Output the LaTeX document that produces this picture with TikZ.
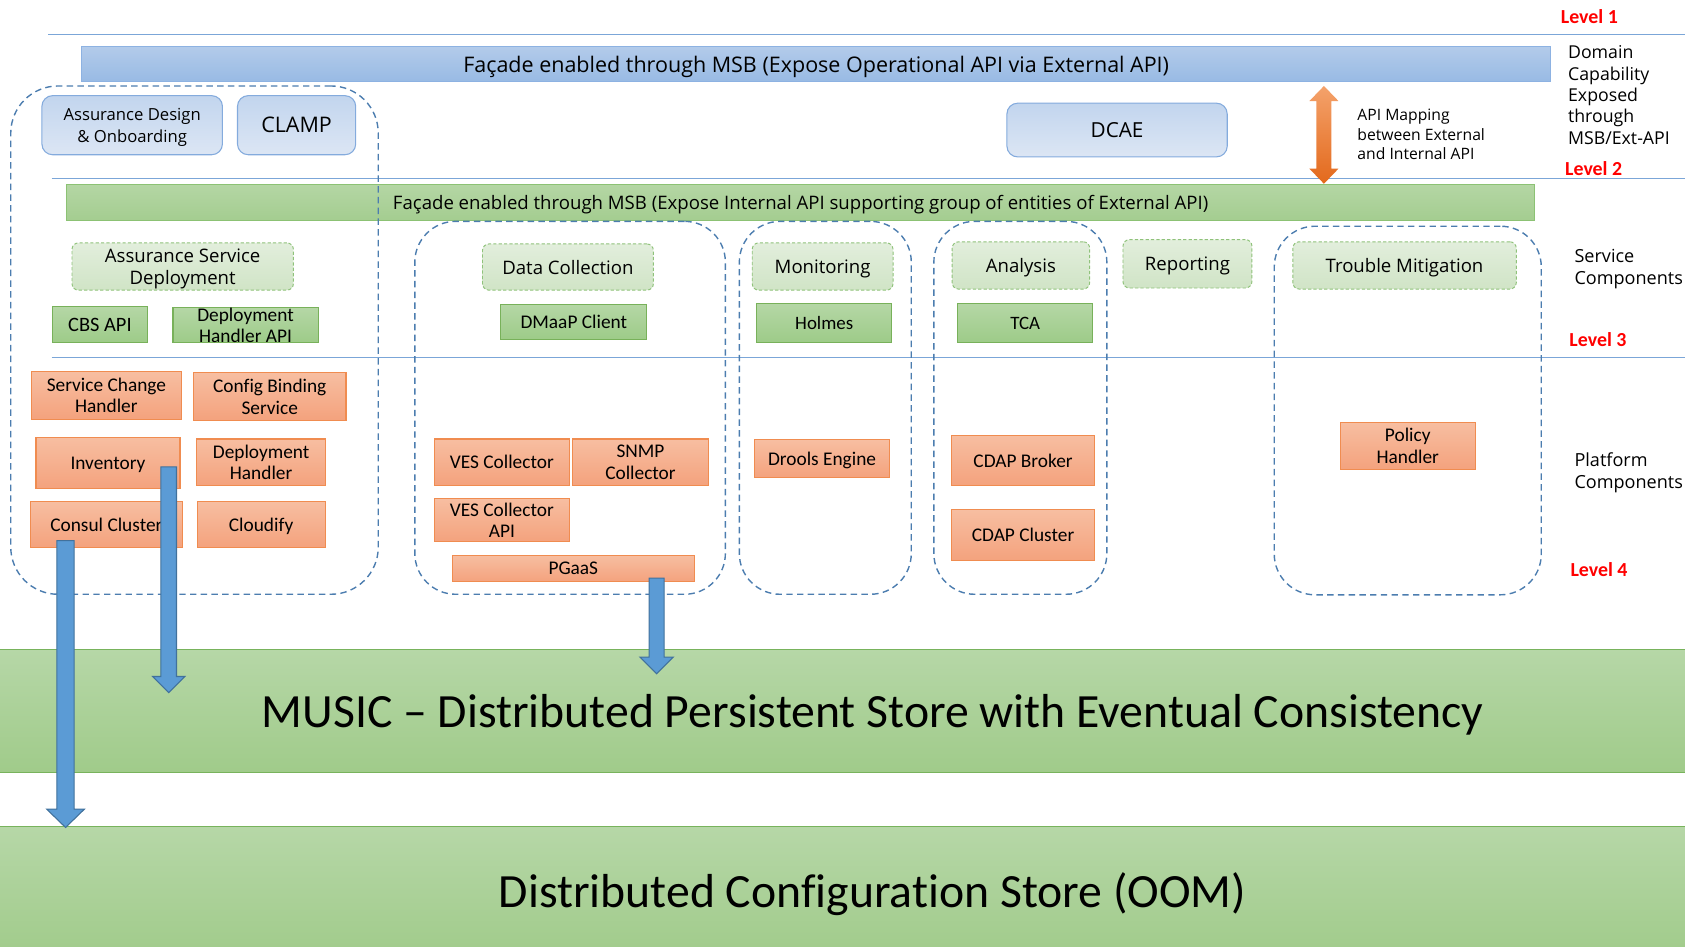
\documentclass[tikz,border=0pt]{standalone}
\usepackage{fontspec}
\setmainfont{Carlito}[Ligatures=NoCommon]
\newfontfamily\segfont{Open Sans}
\usetikzlibrary{calc}
\newcommand{\setfs}[2]{\fontsize{#1}{#2}\selectfont}
\definecolor{orT}{HTML}{F7BEA1}
\definecolor{orBt}{HTML}{F4A27D}
\definecolor{orD}{HTML}{F08C50}
\definecolor{gT}{HTML}{B5D7A6}
\definecolor{gB}{HTML}{9DCB88}
\definecolor{gD}{HTML}{78B15A}
\definecolor{sT}{HTML}{E2EEDC}
\definecolor{sB}{HTML}{D0E4C6}
\definecolor{sD}{HTML}{8FC27A}
\definecolor{bT}{HTML}{C2D5EE}
\definecolor{bB}{HTML}{DCE6F4}
\definecolor{bD}{HTML}{84ABDD}
\definecolor{barT}{HTML}{B3CBEA}
\definecolor{barB}{HTML}{98BAE4}
\definecolor{barD}{HTML}{8DB2E2}
\definecolor{gbarT}{HTML}{B4D6A4}
\definecolor{gbarB}{HTML}{A4CD90}
\definecolor{gbarD}{HTML}{8CC274}
\definecolor{grpD}{HTML}{4C7DAF}
\definecolor{lvlC}{HTML}{7BA6D8}
\definecolor{arF}{HTML}{5B9BD5}
\definecolor{arD}{HTML}{41719C}
\definecolor{oaT}{HTML}{F4A26B}
\definecolor{oaB}{HTML}{E3691C}
\definecolor{bandT}{HTML}{B6D7A7}
\definecolor{bandB}{HTML}{A0CB8A}
\definecolor{bandD}{HTML}{78B35C}
\definecolor{lvred}{HTML}{FF0000}
\newcommand{\blkarrow}[6]{%
  \draw[#1] ($(#2)+(-#4,0)$) -- ($(#3)+(-#4,-#6)$) -- ($(#3)+(-#5,-#6)$) -- (#3)
    -- ($(#3)+(#5,-#6)$) -- ($(#3)+(#4,-#6)$) -- ($(#2)+(#4,0)$) -- cycle;}
\begin{document}
\begin{tikzpicture}[x=1pt,y=-1pt,
  obox/.style={draw=orD, line width=1pt, top color=orT, bottom color=orBt, inner sep=0pt, text depth=0pt, align=center, font=\setfs{18}{20}},
  gbox/.style={draw=gD, line width=1pt, top color=gT, bottom color=gB, inner sep=0pt, text depth=0pt, align=center, font=\setfs{18}{19}},
  sbox/.style={draw=sD, line width=0.9pt, dash pattern=on 3pt off 2pt, rounded corners=6pt, top color=sT, bottom color=sB, inner sep=0pt, text depth=0pt, align=center, font=\segfont\setfs{17.3}{21}},
  bbox/.style={draw=bD, line width=1pt, rounded corners=10pt, top color=bT, bottom color=bB, inner sep=0pt, text depth=0pt, align=center, font=\segfont\setfs{15.5}{20}},
  grp/.style={draw=grpD, line width=1.3pt, dash pattern=on 6pt off 4pt, rounded corners=38pt, inner sep=0pt},
  band/.style={draw=bandD, line width=1pt, top color=bandT, bottom color=bandB, inner sep=0pt},
  bandtext/.style={font=\setfs{44.4}{50}, inner sep=0pt, text depth=0pt},
  lvline/.style={draw=lvlC, line width=1pt},
  lvl/.style={text=lvred, font=\bfseries\setfs{18.5}{20}, inner sep=0pt},
  note/.style={font=\segfont\setfs{16.5}{19.8}, align=left, anchor=west, inner sep=0pt},
  barrow/.style={fill=arF, draw=arD, line width=1pt, line join=miter},
  oarrow/.style={top color=oaT, bottom color=oaB, draw=none}
]
\useasboundingbox (0,0) rectangle (1568,881);

% storage bands
\node[band, minimum width=1574pt, minimum height=115pt] (music) at (784,661.5) {};
\node[bandtext] (musict) at ($(music.center)+(28,0)$) {MUSIC – Distributed Persistent Store with Eventual Consistency};
\node[band, minimum width=1574pt, minimum height=124pt] (oom) at (784,831) {};
\node[bandtext] (oomt) at (812,828) {Distributed Configuration Store (OOM)};

% level lines
\draw[lvline] (45,32) -- (1568,32);
\draw[lvline] (48,166) -- (1568,166);
\draw[lvline] (48,333) -- (1568,333);

% level labels
\node[lvl] (l1) at (1479,15) {Level 1};
\node[lvl] (l2) at (1483,157) {Level 2};
\node[lvl] (l3) at (1487,316) {Level 3};
\node[lvl] (l4) at (1488,530) {Level 4};

% facade bars
\node[draw=barD, line width=1pt, top color=barT, bottom color=barB, minimum width=1367pt, minimum height=33pt, inner sep=0pt, text depth=0pt, font=\segfont\setfs{20}{22}] (extbar) at (759.5,59.5) {Façade enabled through MSB (Expose Operational API via External API)};
\node[draw=gbarD, line width=1pt, top color=gbarT, bottom color=gbarB, minimum width=1366pt, minimum height=33pt, inner sep=0pt, text depth=0pt, font=\segfont\setfs{17.3}{20}] (intbar) at (745,188.5) {Façade enabled through MSB (Expose Internal API supporting group of entities of External API)};

% right-hand notes
\node[note] (domain) at (1459,88.5) {Domain\\Capability\\Exposed\\through\\MSB/Ext-API};
\node[note, font=\segfont\setfs{14.6}{18}] (apimap) at (1263,125) {API Mapping\\between External\\and Internal API};
\node[note, font=\segfont\setfs{16.8}{21}] (svcc) at (1465,250.5) {Service\\Components};
\node[note, font=\segfont\setfs{16.8}{21}] (platc) at (1465,440) {Platform\\Components};

% dashed groups
\node[grp, rounded corners=44pt, minimum width=342pt, minimum height=473pt] (g1) at (181,316.5) {};
\node[grp, minimum width=289pt, minimum height=347pt] (g2) at (530.5,379.5) {};
\node[grp, minimum width=160pt, minimum height=347pt] (g3) at (768,379.5) {};
\node[grp, minimum width=161pt, minimum height=347pt] (g4) at (949.5,379.5) {};
\node[grp, minimum width=248.5pt, minimum height=343pt] (g5) at (1310,382) {};

% top blue boxes
\node[bbox, minimum width=168pt, minimum height=55pt] (design) at (123,116.5) {Assurance Design\\\& Onboarding};
\node[bbox, minimum width=110pt, minimum height=55pt, font=\segfont\setfs{20}{22}] (clamp) at (276,116.5) {CLAMP};
\node[bbox, minimum width=205pt, minimum height=50pt, font=\segfont\setfs{19.3}{22}] (dcae) at (1039.5,121) {DCAE};

% service boxes
\node[sbox, minimum width=206pt, minimum height=44pt] (asd) at (170,248) {Assurance Service\\Deployment};
\node[sbox, minimum width=159pt, minimum height=43pt] (dcol) at (528.5,248.5) {Data Collection};
\node[sbox, minimum width=131pt, minimum height=44pt] (mon) at (765.5,248) {Monitoring};
\node[sbox, minimum width=128pt, minimum height=44pt] (ana) at (950,247) {Analysis};
\node[sbox, minimum width=120pt, minimum height=45pt] (rep) at (1105,245.5) {Reporting};
\node[sbox, minimum width=208pt, minimum height=44pt] (trm) at (1307,247) {Trouble Mitigation};

% green API boxes
\node[gbox, minimum width=88pt, minimum height=34pt, font=\setfs{19}{20}] (cbsapi) at (93,302) {CBS API};
\node[gbox, minimum width=135pt, minimum height=33pt] (dhapi) at (228.5,302.5) {Deployment\\Handler API};
\node[gbox, minimum width=136pt, minimum height=33pt] (dmaap) at (534,299.5) {DMaaP Client};
\node[gbox, minimum width=126pt, minimum height=37pt, font=\setfs{17.6}{19}] (holmes) at (767,300.5) {Holmes};
\node[gbox, minimum width=125.5pt, minimum height=37pt, font=\setfs{17.6}{19}] (tca) at (954,300.5) {TCA};

% platform components
\node[obox, minimum width=140pt, minimum height=44pt] (sch) at (99,368) {Service Change\\Handler};
\node[obox, minimum width=142pt, minimum height=44pt] (cbs) at (251,369) {Config Binding\\Service};
\node[obox, minimum width=134pt, minimum height=48pt] (inv) at (100.5,431) {Inventory};
\node[obox, minimum width=119.5pt, minimum height=43pt] (dh) at (243,430) {Deployment\\Handler};
\node[obox, minimum width=141pt, minimum height=42.5pt] (consul) at (99,488) {Consul Cluster};
\node[obox, minimum width=119pt, minimum height=42.5pt] (cloudify) at (243,488) {Cloudify};
\node[obox, minimum width=126pt, minimum height=43pt] (ves) at (467,430) {VES Collector};
\node[obox, minimum width=126pt, minimum height=43pt] (snmp) at (596,430) {SNMP\\Collector};
\node[obox, minimum width=126pt, minimum height=40.5pt] (vesapi) at (467,484) {VES Collector\\API};
\node[obox, minimum width=225pt, minimum height=25pt] (pgaas) at (533.5,529) {PGaaS};
\node[obox, minimum width=126pt, minimum height=35.5pt] (drools) at (765,427) {Drools Engine};
\node[obox, minimum width=133.5pt, minimum height=47pt] (cdapb) at (952,428.5) {CDAP Broker};
\node[obox, minimum width=133.5pt, minimum height=48pt] (cdapc) at (952,498) {CDAP Cluster};
\node[obox, minimum width=126pt, minimum height=44pt] (policy) at (1310,415) {Policy\\Handler};

% orange API mapping arrow
\coordinate (ot) at (1232,80);
\coordinate (ob) at (1232,171);
\path[oarrow] (ot) -- ($(ot)+(13.5,14)$) -- ($(ot)+(7,14)$) -- ($(ob)+(7,-14)$) -- ($(ob)+(13.5,-14)$) -- (ob)
  -- ($(ob)+(-13.5,-14)$) -- ($(ob)+(-7,-14)$) -- ($(ot)+(-7,14)$) -- ($(ot)+(-13.5,14)$) -- cycle;

% blue storage arrows
\coordinate (a1s) at (61,503);
\coordinate (a1e) at (61,770);
\coordinate (a2s) at (157,434.5);
\coordinate (a2e) at (157,644.5);
\coordinate (a3s) at (611,538);
\coordinate (a3e) at (611,627);
\blkarrow{barrow}{a1s}{a1e}{8}{17.5}{17}
\blkarrow{barrow}{a2s}{a2e}{7.25}{15}{15}
\blkarrow{barrow}{a3s}{a3e}{7}{15.5}{15.5}
\end{tikzpicture}
\end{document}
